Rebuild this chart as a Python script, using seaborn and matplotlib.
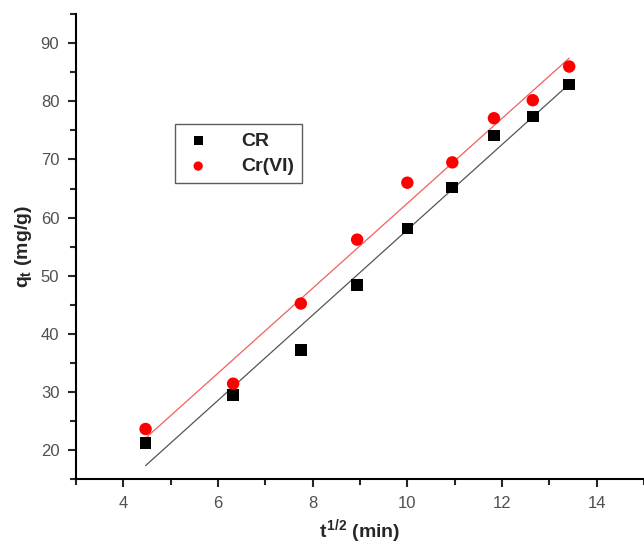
import numpy as np
import pandas as pd
import matplotlib
matplotlib.use("Agg")
import matplotlib.pyplot as plt
from matplotlib.ticker import MultipleLocator
import seaborn as sns

# square root of contact time (min^1/2)
t_sqrt = [4.47, 6.32, 7.75, 8.94, 10.0, 10.95, 11.83, 12.65, 13.42]
q_cr = [21.2, 29.5, 37.2, 48.4, 58.1, 65.2, 74.1, 77.4, 82.9]
q_cr6 = [23.6, 31.4, 45.2, 56.2, 66.0, 69.5, 77.1, 80.2, 86.0]

sns.set_style("ticks")
plt.rcParams["font.family"] = ["Liberation Sans", "DejaVu Sans"]
plt.rcParams["mathtext.fontset"] = "custom"
plt.rcParams["mathtext.rm"] = "Liberation Sans:weight=bold"
plt.rcParams["mathtext.it"] = "Liberation Sans:weight=bold"
plt.rcParams["mathtext.bf"] = "Liberation Sans:weight=bold"

df = pd.DataFrame({"t": t_sqrt, "CR": q_cr, "Cr(VI)": q_cr6})

fig = plt.figure(figsize=(6.44, 5.48), dpi=100)
ax = fig.add_axes([0.118, 0.126, 0.882, 0.848])

sns.regplot(data=df, x="t", y="CR", scatter=False, ci=None, ax=ax,
            line_kws=dict(color="#555555", lw=0.9))
sns.regplot(data=df, x="t", y="Cr(VI)", scatter=False, ci=None, ax=ax,
            line_kws=dict(color="#f06060", lw=0.9))
sns.scatterplot(data=df, x="t", y="CR", marker="s", s=70, color="black",
                edgecolor="none", ax=ax, label="CR", zorder=3)
sns.scatterplot(data=df, x="t", y="Cr(VI)", marker="o", s=80, color="red",
                edgecolor="none", ax=ax, label="Cr(VI)", zorder=3)

ax.set_xlim(3, 15)
ax.set_ylim(15, 95)
ax.xaxis.set_major_locator(MultipleLocator(2))
ax.xaxis.set_minor_locator(MultipleLocator(1))
ax.yaxis.set_major_locator(MultipleLocator(10))
ax.yaxis.set_minor_locator(MultipleLocator(5))
ax.set_yticks(range(20, 100, 10))

for s in ["top", "right"]:
    ax.spines[s].set_visible(False)
for s in ["left", "bottom"]:
    ax.spines[s].set_linewidth(1.5)
    ax.spines[s].set_color("black")

ax.tick_params(which="major", direction="out", length=6, width=1.5,
               labelsize=12, labelcolor="#505050", pad=6)
ax.tick_params(which="minor", direction="out", length=4, width=1.5)

ax.set_xlabel(r"$t^{1/2}$ (min)", fontsize=14, fontweight="bold", labelpad=5)
ax.set_ylabel(r"$q_t$ (mg/g)", fontsize=14, fontweight="bold", labelpad=5)

leg = ax.legend(loc="upper left", bbox_to_anchor=(0.174, 0.763), borderaxespad=0,
                fancybox=False, frameon=True, edgecolor="#333333",
                prop=dict(weight="bold", size=14), markerscale=0.75,
                handlelength=1.6, handletextpad=1.4, borderpad=0.4,
                labelspacing=0.4)
leg.get_frame().set_linewidth(1.0)

fig.savefig("out.png", dpi=100)
